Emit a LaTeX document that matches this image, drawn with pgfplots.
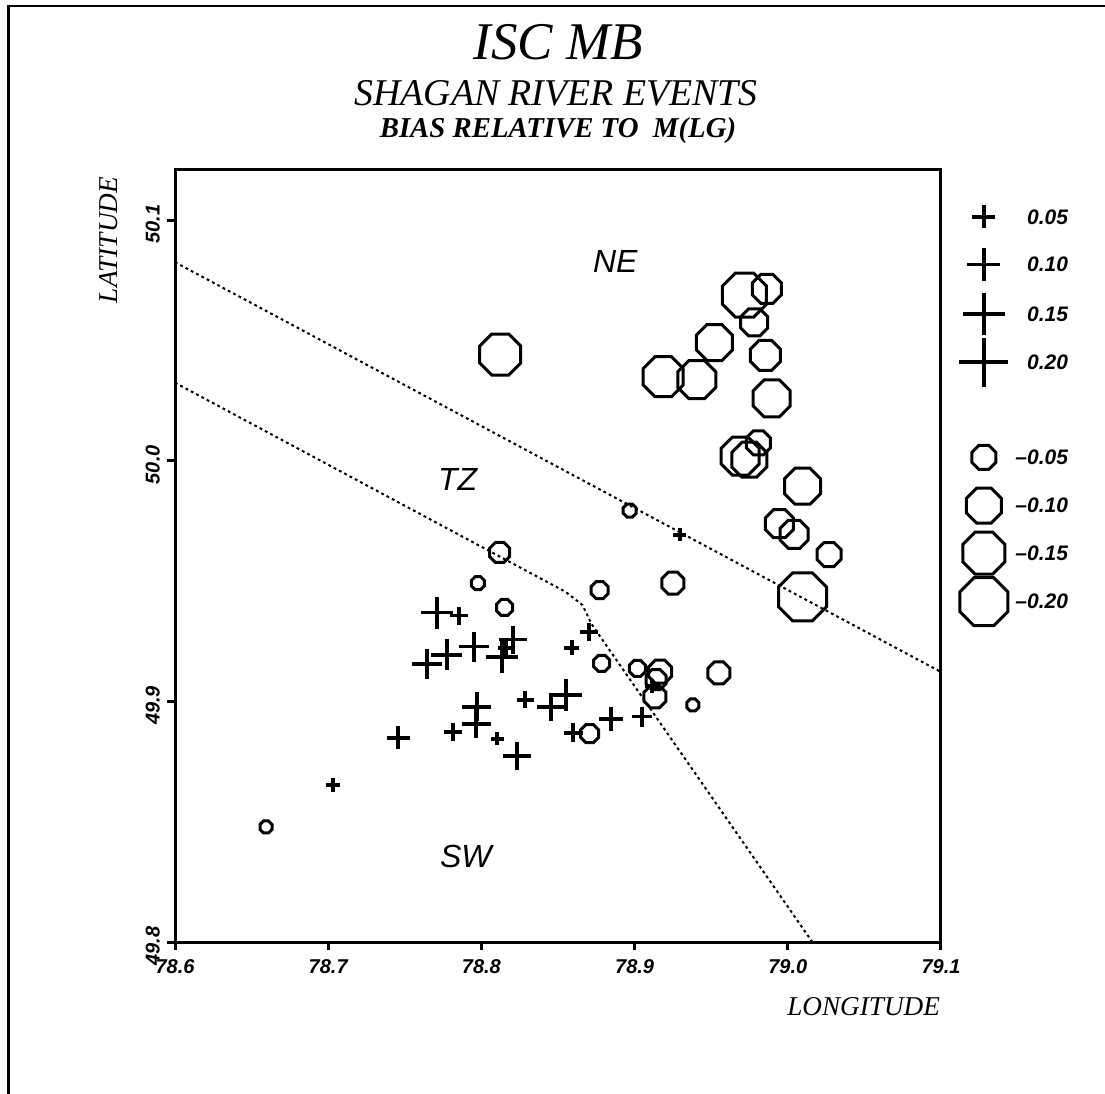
\documentclass[border=0pt]{standalone}
\usepackage{fontspec}
\setmainfont{Liberation Serif}
\newfontfamily\sansf{Liberation Sans}
\usepackage{pgfplots}
\pgfplotsset{compat=1.18}
\usepackage{pgfplotstable}

\pgfdeclareplotmark{octagon}{%
  \pgfpathmoveto{\pgfpointpolar{22.5}{\pgfplotmarksize}}%
  \pgfpathlineto{\pgfpointpolar{67.5}{\pgfplotmarksize}}%
  \pgfpathlineto{\pgfpointpolar{112.5}{\pgfplotmarksize}}%
  \pgfpathlineto{\pgfpointpolar{157.5}{\pgfplotmarksize}}%
  \pgfpathlineto{\pgfpointpolar{202.5}{\pgfplotmarksize}}%
  \pgfpathlineto{\pgfpointpolar{247.5}{\pgfplotmarksize}}%
  \pgfpathlineto{\pgfpointpolar{292.5}{\pgfplotmarksize}}%
  \pgfpathlineto{\pgfpointpolar{337.5}{\pgfplotmarksize}}%
  \pgfpathclose
  \pgfusepathqstroke
}

% negative bias (octagons): lon lat diameter(px)
\pgfplotstableread{
x y d
78.8123 50.0441 41
78.9187 50.0349 40
78.9406 50.0337 38
78.9521 50.0491 36
78.9717 50.0688 44
78.9863 50.0714 29
78.9781 50.0575 27
78.9854 50.0438 30
78.9895 50.0259 37
78.9689 50.0019 38
78.9749 50.0004 35
78.9808 50.0074 24
79.0096 49.9894 36
78.9945 49.9738 28
79.0041 49.9694 28
79.0269 49.9610 24
79.0096 49.9434 48
78.8968 49.9793 13
78.8119 49.9619 20
78.7977 49.9491 13
78.8151 49.9390 16
78.8772 49.9462 17
78.9250 49.9491 22
78.8785 49.9158 16
78.9018 49.9137 16
78.9166 49.9123 23
78.9140 49.9090 20
78.9133 49.9019 22
78.9550 49.9118 22
78.9380 49.8985 12
78.8706 49.8866 18
78.6594 49.8478 12
}\negdata

% positive bias (crosses): lon lat size(px)
\pgfplotstableread{
x y d
78.7710 49.9368 32
78.7854 49.9356 18
78.7645 49.9156 30
78.7775 49.9193 31
78.7952 49.9227 30
78.8206 49.9256 28
78.8134 49.9185 32
78.8161 49.9222 17
78.7971 49.8977 29
78.7965 49.8906 29
78.7815 49.8873 18
78.7456 49.8848 23
78.8102 49.8844 13
78.8232 49.8773 28
78.8285 49.9006 17
78.8454 49.8977 28
78.8552 49.9027 32
78.8591 49.9222 15
78.8702 49.9289 18
78.8598 49.8869 19
78.8846 49.8927 24
78.9048 49.8936 20
78.7031 49.8653 14
78.9296 49.9692 13
78.9114 49.9064 14
}\posdata

\pgfplotstableread{
x y d
79.128 50.1013 23
79.128 50.0816 33
79.128 50.0610 42
79.128 50.0410 49
}\poslegend

\pgfplotstableread{
x y d
79.128 50.0014 24
79.128 49.9813 35
79.128 49.9616 42
79.128 49.9414 48
}\neglegend

\pgfplotsset{
  octs/.style={only marks, scatter, mark=octagon,
    scatter/use mapped color={draw=black, fill=none},
    mark options={line width=1.5pt, solid, line join=miter},
    visualization depends on={\thisrow{d} \as \dd},
    scatter/@pre marker code/.append style={/tikz/mark size=0.2706*\dd}},
  crs/.style={only marks, scatter, mark=+,
    scatter/use mapped color={draw=black, fill=none},
    mark options={line width=1.7pt, solid},
    visualization depends on={\thisrow{d} \as \dd},
    scatter/@pre marker code/.append style={/tikz/mark size=0.25*\dd}},
}

\newcommand\tickf{\sansf\bfseries\itshape\fontsize{10}{11}\selectfont}
\newcommand\legf{\sansf\bfseries\itshape\fontsize{10.5}{11}\selectfont}
\newcommand\regf{\sansf\itshape\fontsize{16}{18}\selectfont}

\begin{document}
\begin{tikzpicture}
\path[use as bounding box] (0,0) rectangle (552.5pt,547pt);
\draw[line width=1.2pt] (4.25pt,0pt) -- (4.25pt,544pt) -- (552.5pt,544pt);

\node[anchor=base] at (279pt,517pt) {\fontsize{26.5}{30}\selectfont\itshape ISC MB};
\node[anchor=base] at (278pt,494pt) {\fontsize{18.9}{22}\selectfont\itshape SHAGAN RIVER EVENTS};
\node[anchor=base] at (279pt,478pt) {\fontsize{14.4}{17}\selectfont\bfseries\itshape BIAS RELATIVE TO\ \ M(LG)};

\begin{axis}[
  at={(87.5pt,76pt)}, anchor=south west,
  scale only axis, width=383pt, height=386pt,
  xmin=78.6, xmax=79.1, ymin=49.8, ymax=50.1208,
  xtick={78.6,78.7,78.8,78.9,79.0,79.1},
  xticklabels={78.6,78.7,78.8,78.9,79.0,79.1},
  ytick={49.8,49.9,50.0,50.1},
  yticklabels={49.8,49.9,50.0,50.1},
  tick pos=left, tick align=outside,
  major tick length=4pt,
  every tick/.style={black, line width=1.5pt},
  axis line style={line width=1.5pt},
  xticklabel style={font=\tickf, yshift=-1pt},
  yticklabel style={font=\tickf, rotate=90, anchor=south, xshift=-2pt},
  clip=false,
]
\addplot[black, line width=1pt, dash pattern=on 1.4pt off 1.6pt] coordinates {(78.6,50.0825) (79.1,49.9122)};
\addplot[black, line width=1pt, dash pattern=on 1.4pt off 1.6pt] coordinates {(78.6,50.0324) (78.855,49.9455) (78.866,49.9400) (78.872,49.9320) (79.016,49.8)};

\addplot[octs] table {\negdata};
\addplot[crs] table {\posdata};
\addplot[octs] table {\neglegend};
\addplot[crs] table {\poslegend};

\node[anchor=east] at (axis cs:79.1875,50.1013) {\legf 0.05};
\node[anchor=east] at (axis cs:79.1875,50.0816) {\legf 0.10};
\node[anchor=east] at (axis cs:79.1875,50.0610) {\legf 0.15};
\node[anchor=east] at (axis cs:79.1875,50.0410) {\legf 0.20};
\node[anchor=east] at (axis cs:79.1875,50.0014) {\legf –0.05};
\node[anchor=east] at (axis cs:79.1875,49.9813) {\legf –0.10};
\node[anchor=east] at (axis cs:79.1875,49.9616) {\legf –0.15};
\node[anchor=east] at (axis cs:79.1875,49.9414) {\legf –0.20};

\node[anchor=base west] at (axis cs:78.8683,50.0782) {\regf NE};
\node[anchor=base west] at (axis cs:78.7671,49.9875) {\regf TZ};
\node[anchor=base west] at (axis cs:78.7684,49.8310) {\regf SW};

\node[anchor=base east] at ([xshift=3pt,yshift=-36.5pt]rel axis cs:1,0) {\fontsize{13.6}{16}\selectfont\itshape LONGITUDE};
\node[anchor=base east, rotate=90] at ([xshift=-28.5pt]rel axis cs:0,1) {\fontsize{13.6}{16}\selectfont\itshape LATITUDE};
\end{axis}
\end{tikzpicture}
\end{document}
